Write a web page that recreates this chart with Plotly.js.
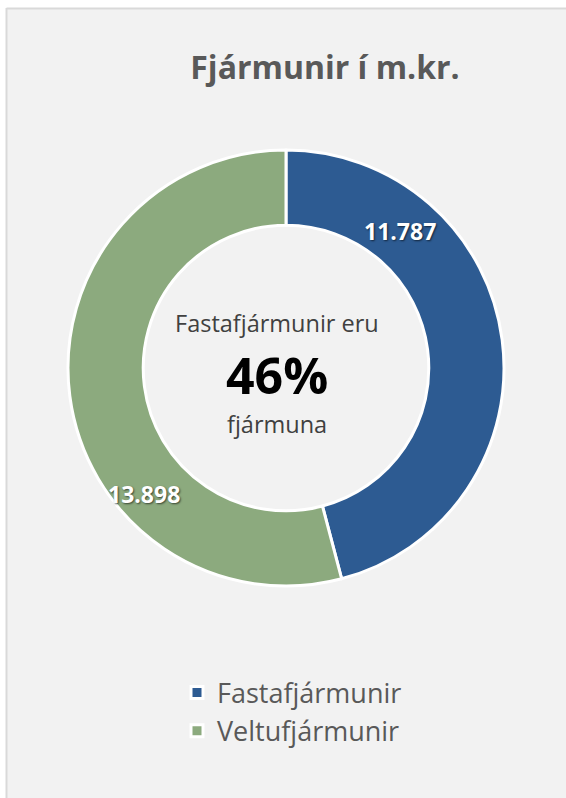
<!DOCTYPE html>
<html>
<head>
<meta charset="utf-8">
<script src="https://cdn.plot.ly/plotly-3.0.1.min.js"></script>
<style>html,body{margin:0;padding:0;background:#fff;}#chart{width:566px;height:798px;}</style>
</head>
<body>
<div id="chart"></div>
<script>
const labels = ['Fastafjármunir', 'Veltufjármunir'];
const values = [11787, 13898];
const colors = ['#2D5B92', '#8CAA7E'];
const chartTitle = 'Fjármunir í m.kr.';
const centerTop = 'Fastafjármunir eru';
const centerBottom = 'fjármuna';

function fmt(v) { return String(v).replace(/\B(?=(\d{3})+(?!\d))/g, '.'); }
const total = values.reduce((a, b) => a + b, 0);
const pct = Math.round(100 * values[0] / total) + '%';

const W = 566, H = 798;
const px = x => x / W;
const py = y => 1 - y / H;

const font = 'Open Sans, Noto Sans, sans-serif';

const trace = {
  type: 'pie',
  labels: labels,
  values: values,
  hole: 0.655,
  sort: false,
  direction: 'clockwise',
  rotation: 0,
  marker: { colors: colors, line: { color: '#FFFFFF', width: 3 } },
  textinfo: 'none',
  hoverinfo: 'label+value',
  domain: { x: [px(68), px(504)], y: [py(586), py(150)] },
  showlegend: true
};

const layout = {
  width: W, height: H,
  margin: { l: 0, r: 0, t: 0, b: 0 },
  paper_bgcolor: '#F2F2F2',
  font: { family: font, color: '#595959' },
  title: {
    text: '<b>' + chartTitle + '</b>',
    font: { family: font, size: 32, color: '#595959' },
    x: px(325), xanchor: 'center',
    y: py(68), yanchor: 'middle'
  },
  legend: {
    orientation: 'v',
    x: px(177), xanchor: 'left',
    y: py(712), yanchor: 'middle',
    font: { family: font, size: 27, color: '#595959' },
    bgcolor: 'rgba(0,0,0,0)'
  },
  shapes: [
    { type: 'rect', xref: 'paper', yref: 'paper', x0: 0, x1: px(6), y0: 0, y1: 1, fillcolor: '#FFFFFF', line: { width: 0 } },
    { type: 'rect', xref: 'paper', yref: 'paper', x0: 0, x1: 1, y0: py(8), y1: 1, fillcolor: '#FFFFFF', line: { width: 0 } },
    { type: 'line', xref: 'paper', yref: 'paper', x0: px(6.5), x1: px(6.5), y0: 0, y1: py(8), line: { color: '#D9D9D9', width: 2 } },
    { type: 'line', xref: 'paper', yref: 'paper', x0: px(6.5), x1: 1, y0: py(8.5), y1: py(8.5), line: { color: '#D9D9D9', width: 2 } }
  ],
  annotations: [
    { text: centerTop, xref: 'paper', yref: 'paper', x: px(277), y: py(323), xanchor: 'center', yanchor: 'middle', showarrow: false,
      font: { family: font, size: 23.5, color: '#404040' } },
    { text: '<b>' + pct + '</b>', xref: 'paper', yref: 'paper', x: px(277), y: py(375), xanchor: 'center', yanchor: 'middle', showarrow: false,
      font: { family: font, size: 50, color: '#000000' } },
    { text: centerBottom, xref: 'paper', yref: 'paper', x: px(277), y: py(424), xanchor: 'center', yanchor: 'middle', showarrow: false,
      font: { family: font, size: 23.5, color: '#404040' } },
    { text: '<b>' + fmt(values[0]) + '</b>', xref: 'paper', yref: 'paper', x: px(400), y: py(231), xanchor: 'center', yanchor: 'middle', showarrow: false,
      font: { family: font, size: 23, color: '#FFFFFF', shadow: '1px 1px 2px rgba(0,0,0,0.6)' } },
    { text: '<b>' + fmt(values[1]) + '</b>', xref: 'paper', yref: 'paper', x: px(144), y: py(494), xanchor: 'center', yanchor: 'middle', showarrow: false,
      font: { family: font, size: 23, color: '#FFFFFF', shadow: '1px 1px 2px rgba(0,0,0,0.6)' } }
  ]
};

Plotly.newPlot('chart', [trace], layout, { displayModeBar: false, staticPlot: true });
</script>
</body>
</html>
